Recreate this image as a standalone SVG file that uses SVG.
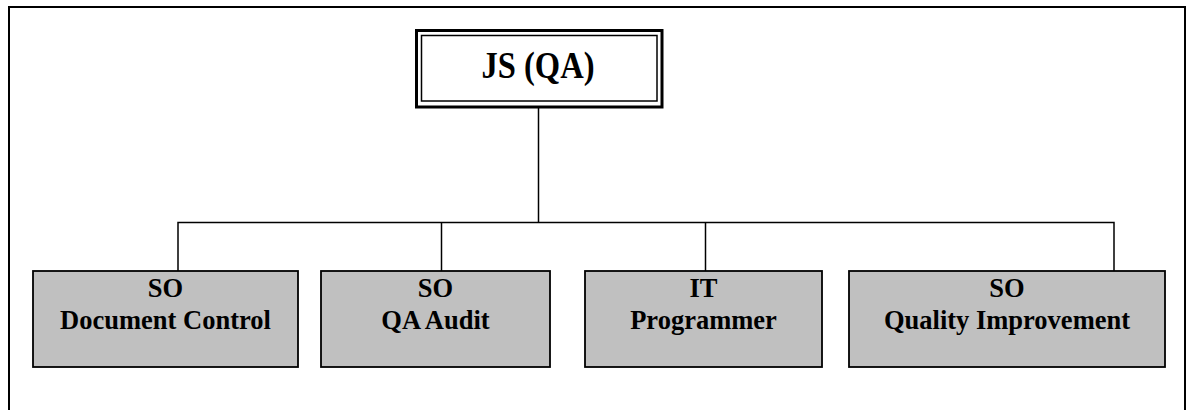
<svg xmlns="http://www.w3.org/2000/svg" width="1192" height="410" viewBox="0 0 1192 410">
<style>
.frame{fill:none;stroke:#000;stroke-width:2}
.conn{fill:none;stroke:#000;stroke-width:1.5}
.box{fill:#c0c0c0;stroke:#000;stroke-width:1.8}
.t{font-family:"Liberation Serif","Times New Roman",serif;font-weight:bold;fill:#000;text-anchor:middle}
.st{font-size:26.5px}
</style>
<rect x="0" y="0" width="1192" height="410" fill="#fff"/>
<path class="frame" d="M9,420 V7 H1185 V420"/>
<g id="connectors">
<path class="conn" d="M538.5,108 V222.5"/>
<path class="conn" d="M178,271 V222.5 H1114 V271"/>
<path class="conn" d="M441.5,222.5 V271"/>
<path class="conn" d="M705.5,222.5 V271"/>
</g>
<g id="js-qa">
<rect x="416.5" y="30.5" width="245.5" height="76.5" fill="#fff" stroke="#000" stroke-width="3"/>
<rect x="421.5" y="35.5" width="235.5" height="65.5" fill="none" stroke="#000" stroke-width="1.5"/>
<text class="t" x="538" y="78" font-size="38" textLength="113" lengthAdjust="spacingAndGlyphs">JS (QA)</text>
</g>
<g id="so-document-control">
<rect class="box" x="33" y="271" width="265" height="96"/>
<text class="t st" x="165.5" y="297">SO</text>
<text class="t st" x="165.5" y="329">Document Control</text>
</g>
<g id="so-qa-audit">
<rect class="box" x="321" y="271" width="229" height="96"/>
<text class="t st" x="435.5" y="297">SO</text>
<text class="t st" x="435.5" y="329">QA Audit</text>
</g>
<g id="it-programmer">
<rect class="box" x="585" y="271" width="237" height="96"/>
<text class="t st" x="703.5" y="297">IT</text>
<text class="t st" x="703.5" y="329">Programmer</text>
</g>
<g id="so-quality-improvement">
<rect class="box" x="849" y="271" width="316" height="96"/>
<text class="t st" x="1007" y="297">SO</text>
<text class="t st" x="1007" y="329">Quality Improvement</text>
</g>
</svg>
